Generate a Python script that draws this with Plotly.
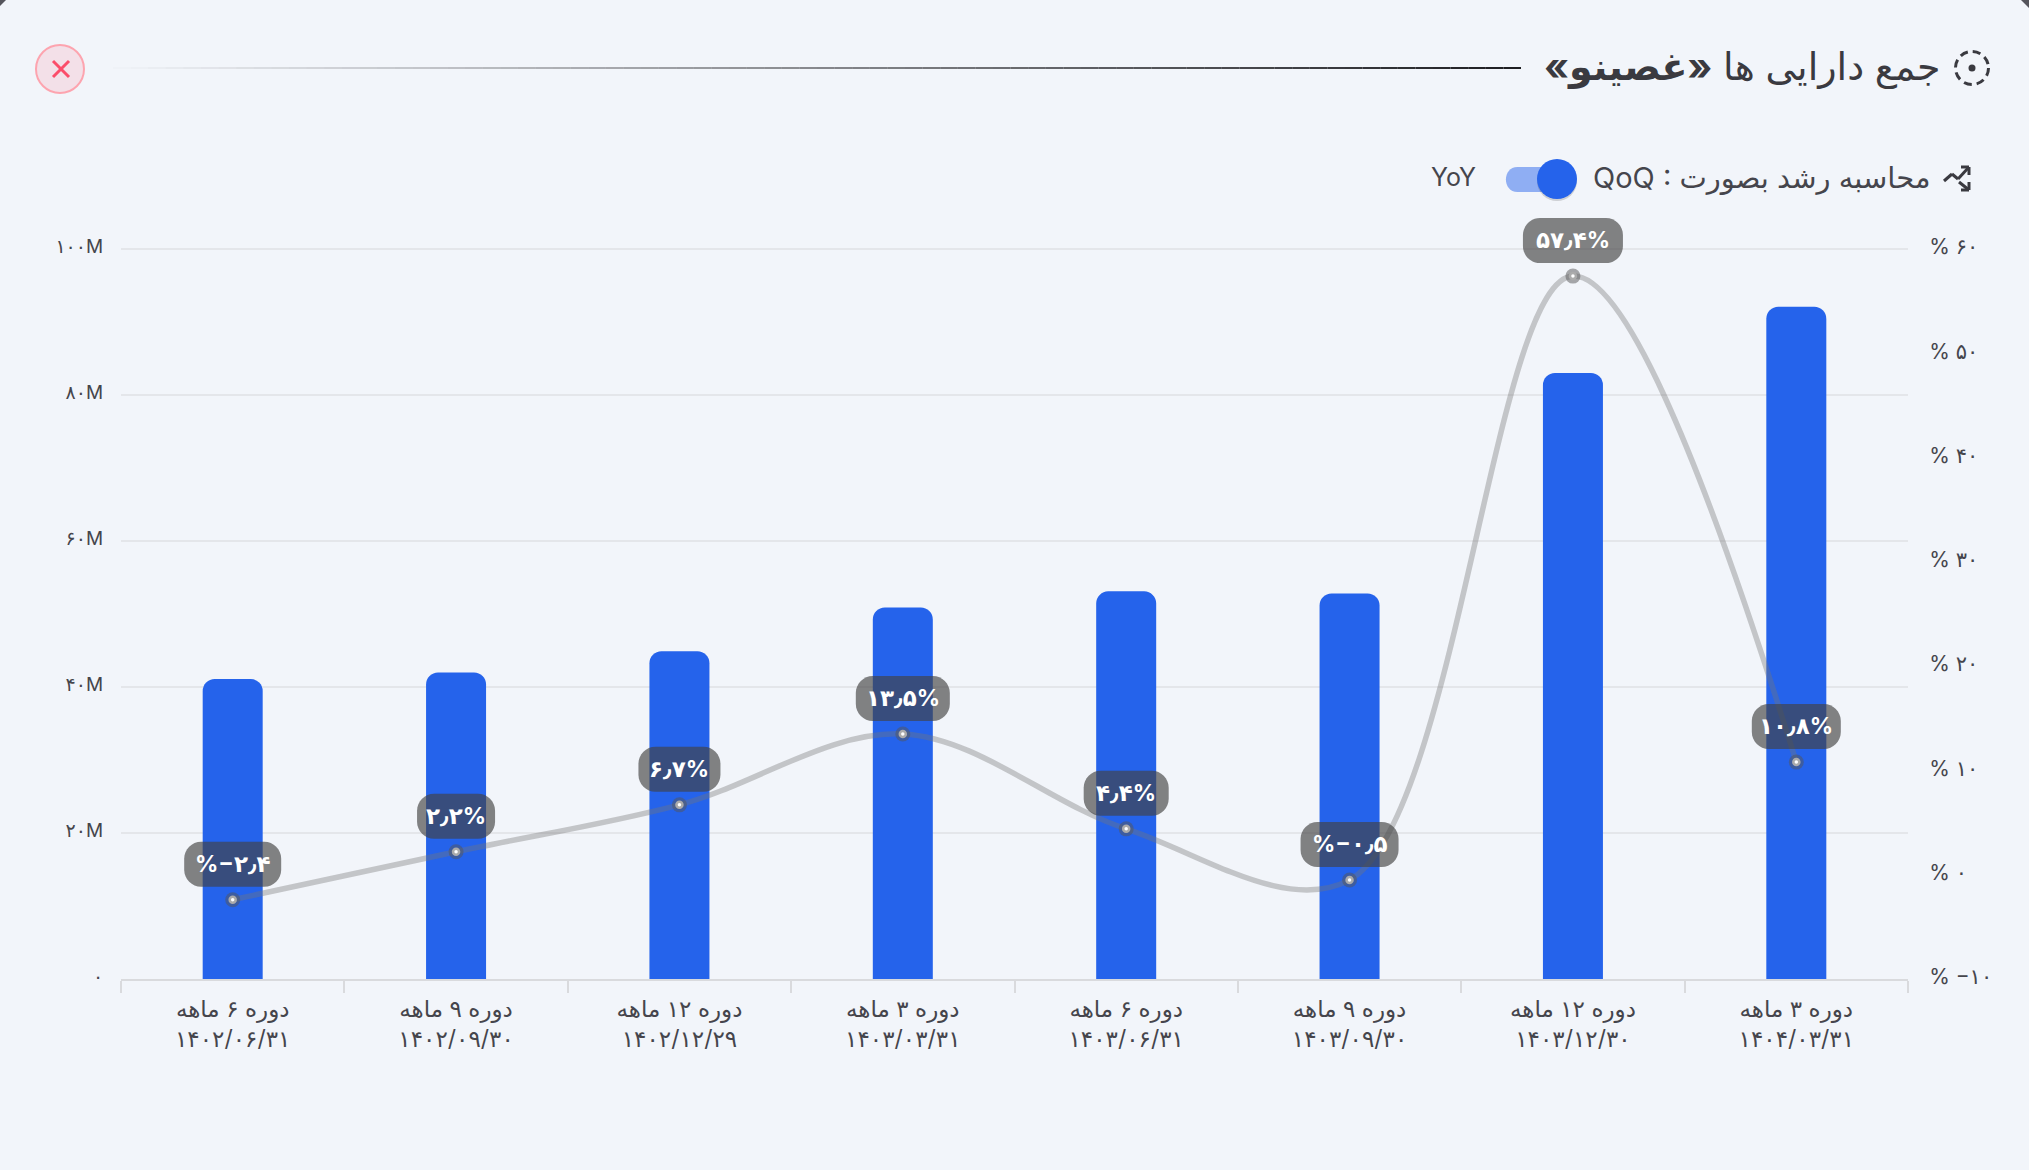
import plotly.graph_objects as go

# chart data
periods = ["دوره ۶ ماهه", "دوره ۹ ماهه", "دوره ۱۲ ماهه", "دوره ۳ ماهه",
           "دوره ۶ ماهه", "دوره ۹ ماهه", "دوره ۱۲ ماهه", "دوره ۳ ماهه"]
dates = ["۱۴۰۲/۰۶/۳۱", "۱۴۰۲/۰۹/۳۰", "۱۴۰۲/۱۲/۲۹", "۱۴۰۳/۰۳/۳۱",
         "۱۴۰۳/۰۶/۳۱", "۱۴۰۳/۰۹/۳۰", "۱۴۰۳/۱۲/۳۰", "۱۴۰۴/۰۳/۳۱"]
total_assets = [41.1, 42.0, 44.9, 50.9, 53.1, 52.8, 83.0, 92.1]
growth = [-2.4, 2.2, 6.7, 13.5, 4.4, -0.5, 57.4, 10.8]
growth_labels = ["%−۲٫۴", "۲٫۲%", "۶٫۷%", "۱۳٫۵%", "۴٫۴%", "%−۰٫۵", "۵۷٫۴%", "۱۰٫۸%"]
left_ticks = [0, 20, 40, 60, 80, 100]
left_labels = ["۰", "۲۰M", "۴۰M", "۶۰M", "۸۰M", "۱۰۰M"]
right_ticks = [-10, 0, 10, 20, 30, 40, 50, 60]
right_labels = ["% −۱۰", "% ۰", "% ۱۰", "% ۲۰", "% ۳۰", "% ۴۰", "% ۵۰", "% ۶۰"]

# page and plot area in pixels, T is above the top gridline to leave room for the top pill
W, H = 2029, 1170
L, R, T, B = 121, 1908, 190, 979
GRID_TOP = 249
HEADROOM = (B - T) / (B - GRID_TOP)
BG = "#F2F5FA"
TEXT = "#45454C"
BLUE = "#2563EB"
GRID = "#E4E6EA"
FONT = "Inter, 'DejaVu Sans'"

# pill widths in pixels, same order as the labels
pill_w = [97, 78, 82, 94, 85, 98, 100, 89]
PILL_H = 45
PILL_GAP = 13


def px(x):
    return (x - L) / (R - L)


def py(y):
    return (B - y) / (B - T)


def pts(*xy):
    return " ".join(f"{'M' if i == 0 else 'L'}{px(x):.5f},{py(y):.5f}" for i, (x, y) in enumerate(xy))


def deco_line(x0, y0, x1, y1, color, width=2):
    return dict(type="line", xref="paper", yref="paper", x0=px(x0), y0=py(y0), x1=px(x1), y1=py(y1),
                line=dict(color=color, width=width))


def deco_circle(cx, cy, r, fill, line_color=None, width=0, dash=None):
    return dict(type="circle", xref="paper", yref="paper", x0=px(cx - r), y0=py(cy - r), x1=px(cx + r), y1=py(cy + r),
                fillcolor=fill, line=dict(color=line_color or fill, width=width, dash=dash))


def pill_path(w, h):
    # rounded box above its anchor point, pixel y runs upwards here
    r = 17
    k = r * 0.45
    x0, x1 = -w / 2, w / 2
    y0, y1 = PILL_GAP + h, PILL_GAP
    return (f"M{x0 + r},{y0} L{x1 - r},{y0} C{x1 - k},{y0} {x1},{y0 - k} {x1},{y0 - r} "
            f"L{x1},{y1 + r} C{x1},{y1 + k} {x1 - k},{y1} {x1 - r},{y1} "
            f"L{x0 + r},{y1} C{x0 + k},{y1} {x0},{y1 + k} {x0},{y1 + r} "
            f"L{x0},{y0 - r} C{x0},{y0 - k} {x0 + k},{y0} {x0 + r},{y0} Z")


# one category per bar, the repeated period names need the date to stay unique
x_labels = [f"{p}<br>{d}" for p, d in zip(periods, dates)]

fig = go.Figure()
fig.add_trace(go.Bar(x=x_labels, y=total_assets, width=0.2686, marker=dict(color=BLUE, line=dict(width=0)),
                     hoverinfo="skip"))
fig.add_trace(go.Scatter(x=x_labels, y=growth, yaxis="y2", mode="lines+markers",
                         line=dict(color="rgba(117,117,117,0.38)", width=5.5, shape="spline", smoothing=1.0),
                         marker=dict(size=15, color="rgba(85,85,85,0.5)"), hoverinfo="skip"))
fig.add_trace(go.Scatter(x=x_labels, y=growth, yaxis="y2", mode="markers",
                         marker=dict(size=6, color="#FFFFFF", line=dict(color="#ABABAB", width=2.5)), hoverinfo="skip"))

shapes = []
annotations = []

# growth labels sit on the line points
for xv, yv, txt, w in zip(x_labels, growth, growth_labels, pill_w):
    shapes.append(dict(type="path", xref="x", yref="y2", xsizemode="pixel", ysizemode="pixel",
                       xanchor=xv, yanchor=yv, path=pill_path(w, PILL_H),
                       fillcolor="rgba(66,66,66,0.65)", line=dict(width=0)))
    annotations.append(dict(x=xv, y=yv, xref="x", yref="y2", text=f"<b>{txt}</b>", showarrow=False,
                            yshift=PILL_GAP + 23, font=dict(family=FONT, size=23, color="#FFFFFF")))

# title rule fading out to the left
n_seg = 80
x_start, x_end = 113, 1521
for i in range(n_seg):
    a = (i + 1) / n_seg
    shapes.append(deco_line(x_start + (x_end - x_start) * i / n_seg, 68, x_start + (x_end - x_start) * (i + 1) / n_seg, 68,
                            f"rgba(30,30,34,{a:.3f})", 2))

# title icon
shapes.append(deco_circle(1972, 68, 16.5, "rgba(0,0,0,0)", "#3A3A40", 3, "8px,5px"))
shapes.append(deco_circle(1972, 68, 3.5, "#3A3A40"))

# close button
shapes.append(deco_circle(60, 69, 24, "rgba(251,77,106,0.12)", "#FDA4AF", 2))
shapes.append(deco_line(53, 61, 69, 77, "#FB4D6A", 3))
shapes.append(deco_line(69, 61, 53, 77, "#FB4D6A", 3))

# growth mode icon
for seg in [((1944, 181), (1952, 174)), ((1952, 174), (1958, 179)), ((1958, 179), (1969, 167)),
            ((1961, 167), (1969, 167)), ((1969, 167), (1969, 175)),
            ((1959, 182), (1969, 190)), ((1961, 190), (1969, 190)), ((1969, 190), (1969, 182))]:
    shapes.append(deco_line(seg[0][0], seg[0][1], seg[1][0], seg[1][1], "#3A3A40", 3))

# toggle switch
tx0, tx1, ty0, ty1 = 1505, 1576, 167, 192
tr = (ty1 - ty0) / 2
shapes.append(dict(type="path", xref="paper", yref="paper", line=dict(width=0), fillcolor="#8FAEF3",
                   path=f"M{px(tx0 + tr)},{py(ty0)} L{px(tx1 - tr)},{py(ty0)} "
                        f"C{px(tx1)},{py(ty0)} {px(tx1)},{py(ty1)} {px(tx1 - tr)},{py(ty1)} "
                        f"L{px(tx0 + tr)},{py(ty1)} C{px(tx0 - 3)},{py(ty1)} {px(tx0 - 3)},{py(ty0)} {px(tx0 + tr)},{py(ty0)} Z"))
shapes.append(deco_circle(1557, 181, 20, "rgba(60,60,60,0.2)"))
shapes.append(deco_circle(1557, 179, 20, BLUE))

# rounded page corners
shapes.append(dict(type="path", xref="paper", yref="paper", line=dict(width=0), fillcolor="#55555C",
                   path=pts((W - 8, 0), (W, 0), (W, 8)) + " Z"))
shapes.append(dict(type="path", xref="paper", yref="paper", line=dict(width=0), fillcolor="#55555C",
                   path=pts((0, 0), (6, 0), (0, 6)) + " Z"))

annotations.append(dict(xref="paper", yref="paper", x=px(1942), y=py(66), xanchor="right", yanchor="middle",
                        showarrow=False, text="جمع دارایی ها <b>«غصینو»</b>\u200f",
                        font=dict(family=FONT, size=38, color="#3A3A40")))
annotations.append(dict(xref="paper", yref="paper", x=px(1932), y=py(177), xanchor="right", yanchor="middle",
                        showarrow=False, text="QoQ : محاسبه رشد بصورت",
                        font=dict(family=FONT, size=29, color=TEXT)))
annotations.append(dict(xref="paper", yref="paper", x=px(1453), y=py(177), xanchor="center", yanchor="middle",
                        showarrow=False, text="YoY", font=dict(family=FONT, size=25, color=TEXT)))

fig.update_layout(
    width=W, height=H, margin=dict(l=L, r=W - R, t=T, b=H - B, pad=0),
    paper_bgcolor=BG, plot_bgcolor=BG, showlegend=False, barcornerradius=12,
    font=dict(family=FONT, color=TEXT),
    xaxis=dict(type="category", categoryorder="array", categoryarray=x_labels,
               tickson="boundaries", ticks="outside", ticklen=12, tickwidth=2, tickcolor="#D9DADD", showline=True,
               linecolor="#D9DADD", linewidth=2, showgrid=False, zeroline=False, tickangle=0, ticklabelstandoff=8,
               tickfont=dict(size=23, color=TEXT)),
    yaxis=dict(range=[0, 100 * HEADROOM], tickvals=left_ticks, ticktext=left_labels, gridcolor=GRID, gridwidth=2,
               zeroline=False, showline=False, ticks="outside", ticklen=13, tickcolor="rgba(0,0,0,0)",
               ticklabelshift=-3, tickfont=dict(size=19, color=TEXT)),
    yaxis2=dict(range=[-10, -10 + 70 * HEADROOM], overlaying="y", side="right", tickvals=right_ticks, ticktext=right_labels,
                showgrid=False, zeroline=False, showline=False, ticks="outside", ticklen=16, tickcolor="rgba(0,0,0,0)",
                ticklabelshift=-2, tickfont=dict(size=21, color=TEXT)),
    shapes=shapes, annotations=annotations,
)

fig.write_html("out.html", config=dict(displayModeBar=False),
               post_script="document.body.style.margin='0';document.body.style.overflow='hidden';document.body.style.background='" + BG + "';")
